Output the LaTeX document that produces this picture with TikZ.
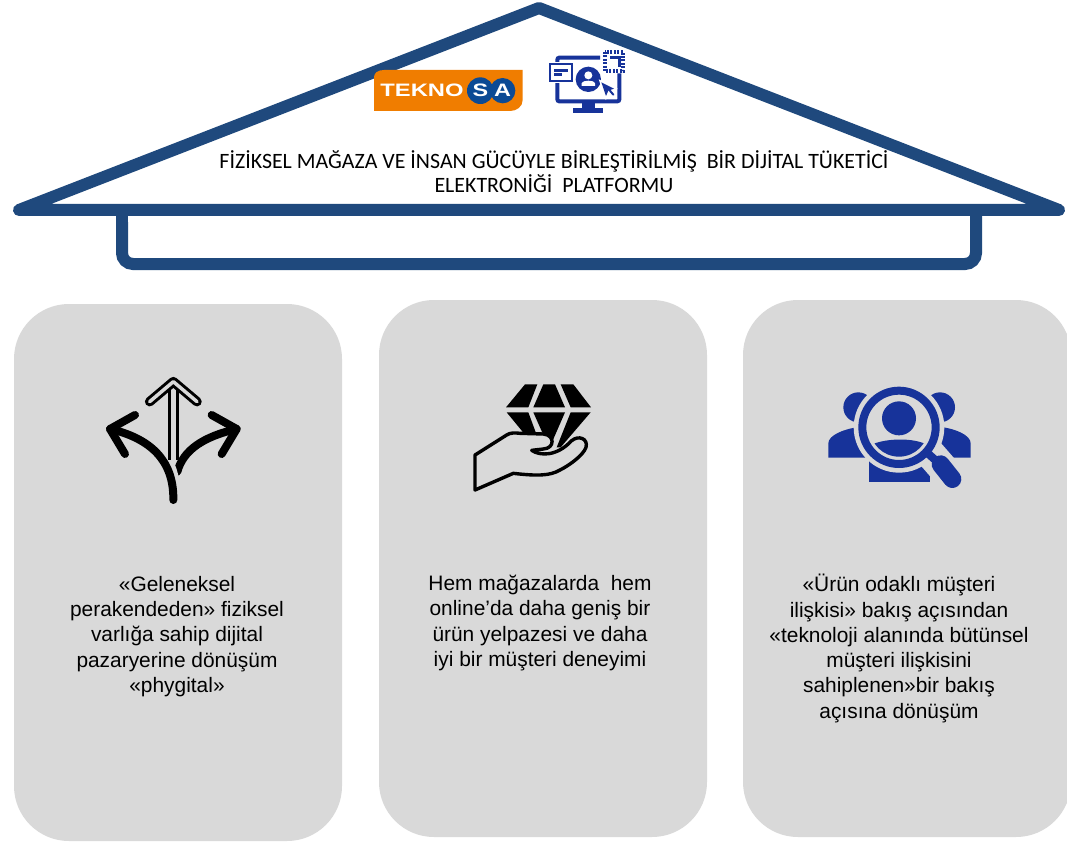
\documentclass[tikz,border=0pt]{standalone}
\usepackage{fontspec}
\setmainfont{Liberation Sans}
\newfontfamily\roofFont{Carlito}
\usetikzlibrary{calc}
\definecolor{roofblue}{HTML}{1F497D}
\definecolor{panelgray}{HTML}{D9D9D9}
\definecolor{iconblue}{HTML}{17339A}
\definecolor{logoorange}{HTML}{F07D00}
\definecolor{logoblue}{HTML}{0B4A94}
\tikzset{
  panel/.style={draw=none,fill=panelgray,rounded corners=55pt},
  bodytext/.style={align=center,text=black,inner sep=0pt,font=\fontsize{20.9}{25.3}\selectfont},
  rooftext/.style={align=center,text=black,inner sep=0pt,font=\roofFont\fontsize{21.9}{24}\selectfont},
  roofline/.style={draw=roofblue,line width=12pt,line join=round,line cap=round},
  iconline/.style={draw=black,line cap=round,line join=round},
  subscale/.style={x=0.33333pt,y=-0.33333pt}
}
\begin{document}
\begin{tikzpicture}[x=1pt,y=-1pt]
\useasboundingbox (0,0) rectangle (1067,842);
\fill[white] (0,0) rectangle (1067,842);
\begin{scope}
\clip (0,0) rectangle (1067,842);
% panels
\path[panel] (14,304) rectangle (342,841);
\path[panel] (379,300) rectangle (707,837);
\path[panel] (743,300) rectangle (1071,837);
% house
\draw[draw=roofblue,line width=12pt,rounded corners=11pt] (122,212) -- (122,264) -- (976,264) -- (976,212);
\fill[white] (128,216) rectangle (970,222);
\draw[roofline,fill=white] (539,8) -- (19,210) -- (1059,210) -- cycle;
\end{scope}
% roof text
\node[rooftext] (rooftitle) at (554,172) {FİZİKSEL MAĞAZA VE İNSAN GÜCÜYLE BİRLEŞTİRİLMİŞ\ \ BİR DİJİTAL TÜKETİCİ\\ELEKTRONİĞİ\ \ PLATFORMU};
% logo
\begin{scope}[shift={(360,40)},subscale]
\fill[logoorange] (42,213) -- (42,112) .. controls (42,100) and (52,90) .. (72,90) -- (488,90) -- (488,180) .. controls (488,200) and (470,213) .. (450,213) -- cycle;
\fill[logoblue] (361,152) circle (40);
\fill[logoblue] (428,152) circle (38);
\node[text=white,inner sep=0pt,font=\bfseries\fontsize{18}{18}\selectfont,xscale=1.32] (tekno) at (186,152) {TEKNO};
\node[text=white,inner sep=0pt,font=\bfseries\fontsize{18}{18}\selectfont,xscale=1.3] (logos) at (361,152) {S};
\node[text=white,inner sep=0pt,font=\bfseries\fontsize{18}{18}\selectfont,xscale=1.3] (logoa) at (428,152) {A};
\end{scope}
% monitor icon
\begin{scope}[shift={(360,40)},subscale]
\draw[iconblue,line width=4pt,rounded corners=2pt] (720,53) -- (592,53) -- (592,184) -- (778,184) -- (778,100);
\fill[iconblue] (665,190) rectangle (705,206);
\fill[iconblue] (640,203) rectangle (730,218);
\fill[white] (564,66) rectangle (642,129);
\fill[iconblue] (568,70) rectangle (638,125);
\fill[white] (574,76) rectangle (632,119);
\fill[iconblue] (582,88) rectangle (624,96);
\fill[iconblue] (582,100) rectangle (606,108);
\fill[iconblue] (685,118) circle (38);
\fill[white] (685,106) circle (12);
\fill[white] (665,138) -- (665,130) .. controls (667,124) and (678,122) .. (685,122) .. controls (692,122) and (703,124) .. (705,130) -- (705,138) -- cycle;
\draw[white,line width=3pt] (724,127) -- (762,146) -- (745,152) -- (738,168) -- cycle;
\fill[iconblue] (724,127) -- (762,146) -- (745,152) -- (738,168) -- cycle;
\draw[iconblue,line width=2pt,line cap=round] (748,150) -- (760,164);
\draw[iconblue,line width=4pt,dash pattern=on 2pt off 1.4pt] (735,36) rectangle (790,94);
\draw[iconblue,line width=3pt] (750,53) -- (778,53) -- (778,80);
\end{scope}
% fork arrows icon
\begin{scope}[shift={(90,360)},subscale]
\draw[iconline,line width=8pt] (262,335) .. controls (280,270) and (340,230) .. (440,207);
\draw[iconline,line width=8pt] (365,165) -- (440,207) -- (395,282);
\draw[panelgray,line width=13pt,line cap=butt] (250,395) .. controls (252,300) and (190,245) .. (130,225);
\draw[iconline,line width=8pt] (250,420) .. controls (252,300) and (180,235) .. (60,207);
\draw[iconline,line width=8pt] (135,165) -- (60,207) -- (105,282);
\draw[iconline,line width=9.5pt] (179,125) -- (250,65) -- (321,125);
\draw[panelgray,line width=3.5pt,line cap=round,line join=round] (179,125) -- (250,65) -- (321,125);
\draw[black,line width=3pt] (239,90) -- (239,300);
\draw[black,line width=3pt] (262,90) -- (262,300);
\end{scope}
% diamond in hand icon
\begin{scope}[shift={(460,370)},subscale]
\fill[black] (195,43) -- (232,43) -- (205,112) -- (138,112) -- cycle;
\fill[black] (250,43) -- (285,43) -- (315,112) -- (220,112) -- cycle;
\fill[black] (302,43) -- (340,43) -- (393,112) -- (332,112) -- cycle;
\fill[black] (140,127) -- (205,127) -- (232,200) -- (200,200) -- cycle;
\fill[black] (220,127) -- (315,127) -- (268,235) -- cycle;
\fill[black] (332,127) -- (392,127) -- (302,232) -- (290,232) -- cycle;
\draw[iconline,line width=3.4pt,fill=panelgray] (45,255) -- (140,195) .. controls (150,188) and (165,188) .. (180,190) -- (250,192) .. controls (285,195) and (285,235) .. (250,237) -- (215,241) .. controls (240,258) and (290,260) .. (335,212) .. controls (355,195) and (385,205) .. (378,232) .. controls (370,255) and (330,285) .. (300,300) .. controls (270,318) and (230,318) .. (160,310) -- (45,360) -- cycle;
\end{scope}
% people + magnifier icon
\begin{scope}[shift={(815,375)},subscale]
\fill[iconblue] (130,97) circle (45);
\fill[iconblue] (375,97) circle (45);
\fill[iconblue] (40,248) -- (40,205) .. controls (40,180) and (90,160) .. (140,155) -- (170,248) -- cycle;
\fill[iconblue] (467,248) -- (467,205) .. controls (467,180) and (420,160) .. (370,155) -- (340,248) -- cycle;
\fill[iconblue] (163,321) -- (163,250) -- (345,250) -- (345,321) -- cycle;
\fill[panelgray] (252,157) circle (136);
\draw[panelgray,line width=30pt,line cap=round] (345,235) -- (412,312);
\draw[iconblue,line width=8pt] (252,157) circle (110);
\draw[iconblue,line width=18pt,line cap=round] (377,268) -- (412,312);
\draw[iconblue,line width=8pt] (335,232) -- (372,265);
\fill[iconblue] (252,130) circle (51);
\begin{scope}
\clip (252,157) circle (88);
\fill[iconblue] (165,212) .. controls (200,190) and (300,185) .. (340,212) -- (340,300) -- (165,300) -- cycle;
\end{scope}
\end{scope}
% panel texts
\node[bodytext] (textone) at (177,636.5) {«Geleneksel\\perakendeden» fiziksel\\varlığa sahip dijital\\pazaryerine dönüşüm\\«phygital»};
\node[bodytext] (texttwo) at (540,623) {Hem mağazalarda\ \ hem\\online’da daha geniş bir\\ürün yelpazesi ve daha\\iyi bir müşteri deneyimi};
\node[bodytext] (textthree) at (899,648.5) {«Ürün odaklı müşteri\\ilişkisi» bakış açısından\\«teknoloji alanında bütünsel\\müşteri ilişkisini\\sahiplenen»bir bakış\\açısına dönüşüm};
\end{tikzpicture}
\end{document}
